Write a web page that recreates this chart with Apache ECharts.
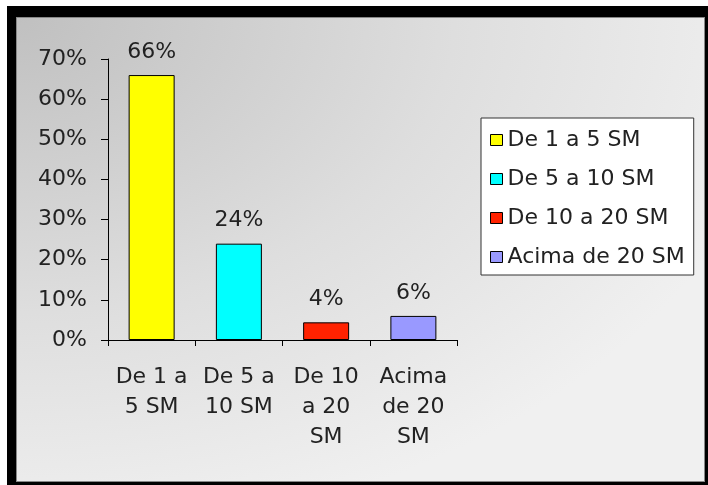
<!DOCTYPE html>
<html>
<head>
<meta charset="utf-8">
<script src="https://cdn.jsdelivr.net/npm/echarts@6/dist/echarts.min.js"></script>
<style>
  html, body { margin: 0; padding: 0; background: #fff; }
  .frame {
    position: absolute;
    left: 7px; top: 6px; width: 689px; height: 465px;
    border-style: solid; border-color: #000;
    border-width: 11px 3px 3px 9px;
  }
  .inner {
    position: absolute; left: 0; top: 0; right: 0; bottom: 0;
    border: 1px solid #888;
    box-sizing: border-box;
    background: radial-gradient(ellipse farthest-corner at 0 0, #c0c0c0 0%, #dedede 45%, #f0f0f0 80%);
  }
  #chart { position: absolute; left: 0; top: 0; width: 708px; height: 485px; }
</style>
</head>
<body>
<div class="frame"><div class="inner"></div></div>
<div id="chart"></div>
<script>
  // faixas de renda
  const categories = ['De 1 a 5 SM', 'De 5 a 10 SM', 'De 10 a 20 SM', 'Acima de 20 SM']
  const axisLabels = ['De 1 a\n5 SM', 'De 5 a\n10 SM', 'De 10\na 20\nSM', 'Acima\nde 20\nSM']
  const values = [66, 24, 4.4, 6]
  const colors = ['#ffff00', '#00ffff', '#ff2200', '#9999ff']
  const yTicks = [0, 70, 10] // min, max, interval

  const font = 'DejaVu Sans'
  const textColor = '#222'

  const myChart = echarts.init(document.getElementById('chart'))

  const series = categories.map((name, i) => ({
    name: name,
    type: 'bar',
    barWidth: 46,
    barGap: '-100%',
    data: values.map((v, j) => (j === i ? v : '-')),
    itemStyle: { color: colors[i], borderColor: '#000', borderWidth: 1 },
    label: {
      show: true,
      position: 'top',
      distance: 12,
      fontFamily: font,
      fontSize: 22,
      color: textColor,
      formatter: (p) => Math.round(p.value) + '%',
    },
  }))

  myChart.setOption({
    animation: false,
    grid: { left: 108, right: 251, top: 59, bottom: 145 },
    legend: {
      orient: 'vertical',
      left: 481,
      top: 118,
      data: categories,
      icon: 'rect',
      itemWidth: 12,
      itemHeight: 11,
      itemGap: 15,
      padding: [10, 9, 6, 9],
      backgroundColor: '#fff',
      borderColor: '#333',
      borderWidth: 1,
      itemStyle: { borderColor: '#000', borderWidth: 1 },
      textStyle: { fontFamily: font, fontSize: 22, lineHeight: 24, color: textColor },
    },
    xAxis: {
      type: 'category',
      data: axisLabels,
      axisLine: { lineStyle: { color: '#000', width: 1 } },
      axisTick: { show: true, length: 6, lineStyle: { color: '#000' } },
      axisLabel: {
        margin: 22,
        fontFamily: font,
        fontSize: 22,
        lineHeight: 30,
        color: textColor,
        interval: 0,
      },
    },
    yAxis: {
      type: 'value',
      min: yTicks[0],
      max: yTicks[1],
      interval: yTicks[2],
      axisLine: { show: true, lineStyle: { color: '#000', width: 1 } },
      axisTick: { show: true, length: 7, lineStyle: { color: '#000' } },
      splitLine: { show: false },
      axisLabel: {
        margin: 21,
        fontFamily: font,
        fontSize: 22,
        color: textColor,
        formatter: '{value}%',
      },
    },
    series: series,
  })
</script>
</body>
</html>
